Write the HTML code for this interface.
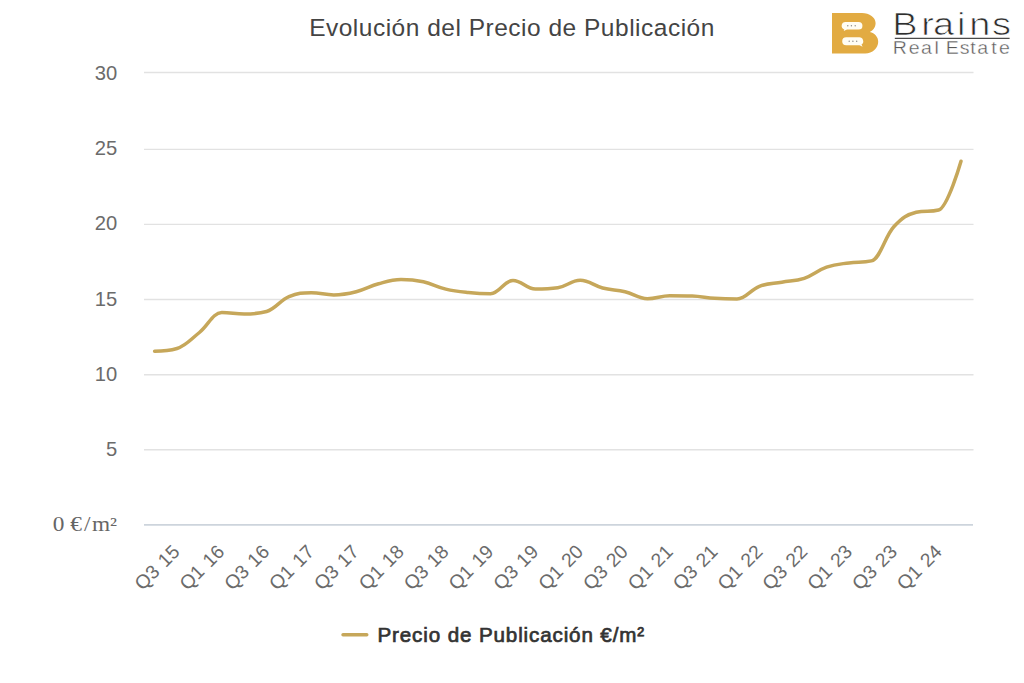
<!DOCTYPE html>
<html><head><meta charset="utf-8"><title>Evolución del Precio de Publicación</title>
<style>
html,body{margin:0;padding:0;background:#fff;width:1024px;height:683px;overflow:hidden}
svg{display:block}
text{font-family:"Liberation Sans",Arial,sans-serif}
.serif text{font-family:"Liberation Serif",serif}
</style></head><body>
<svg width="1024" height="683" viewBox="0 0 1024 683">
<rect width="1024" height="683" fill="#fff"/>
<g stroke="#e2e2e2" stroke-width="1.4" fill="none">
<path d="M144 72.45 H973.5"/>
<path d="M144 149.35 H973.5"/>
<path d="M144 224.35 H973.5"/>
<path d="M144 299.5 H973.5"/>
<path d="M144 374.8 H973.5"/>
<path d="M144 449.7 H973.5"/>
</g>
<path d="M144 524.9 H973" stroke="#cdd4dc" stroke-width="1.6" fill="none"/>
<g fill="#6b6b6b" font-size="20.2">
<text x="117.3" y="80.15" text-anchor="end">30</text>
<text x="117.3" y="155.30" text-anchor="end">25</text>
<text x="117.3" y="230.45" text-anchor="end">20</text>
<text x="117.3" y="305.60" text-anchor="end">15</text>
<text x="117.3" y="380.75" text-anchor="end">10</text>
<text x="117.3" y="455.90" text-anchor="end">5</text>
</g>
<g class="serif" fill="#666" font-size="20.3" transform="translate(0 530.8)">
<text transform="translate(53.60 0) scale(1.149 1)" x="-0.81 6.82 14.46 26.40 33.50 49.01" >0 €/m²</text>
</g>
<g fill="#6b6b6b" font-size="19.3" word-spacing="1.5">
<text x="180.80" y="553" transform="rotate(-45 180.80 553)" text-anchor="end">Q3 15</text>
<text x="225.64" y="553" transform="rotate(-45 225.64 553)" text-anchor="end">Q1 16</text>
<text x="270.48" y="553" transform="rotate(-45 270.48 553)" text-anchor="end">Q3 16</text>
<text x="315.32" y="553" transform="rotate(-45 315.32 553)" text-anchor="end">Q1 17</text>
<text x="360.16" y="553" transform="rotate(-45 360.16 553)" text-anchor="end">Q3 17</text>
<text x="405.00" y="553" transform="rotate(-45 405.00 553)" text-anchor="end">Q1 18</text>
<text x="449.84" y="553" transform="rotate(-45 449.84 553)" text-anchor="end">Q3 18</text>
<text x="494.68" y="553" transform="rotate(-45 494.68 553)" text-anchor="end">Q1 19</text>
<text x="539.52" y="553" transform="rotate(-45 539.52 553)" text-anchor="end">Q3 19</text>
<text x="584.36" y="553" transform="rotate(-45 584.36 553)" text-anchor="end">Q1 20</text>
<text x="629.20" y="553" transform="rotate(-45 629.20 553)" text-anchor="end">Q3 20</text>
<text x="674.04" y="553" transform="rotate(-45 674.04 553)" text-anchor="end">Q1 21</text>
<text x="718.88" y="553" transform="rotate(-45 718.88 553)" text-anchor="end">Q3 21</text>
<text x="763.72" y="553" transform="rotate(-45 763.72 553)" text-anchor="end">Q1 22</text>
<text x="808.56" y="553" transform="rotate(-45 808.56 553)" text-anchor="end">Q3 22</text>
<text x="853.40" y="553" transform="rotate(-45 853.40 553)" text-anchor="end">Q1 23</text>
<text x="898.24" y="553" transform="rotate(-45 898.24 553)" text-anchor="end">Q3 23</text>
<text x="943.08" y="553" transform="rotate(-45 943.08 553)" text-anchor="end">Q1 24</text>
</g>
<path d="M154.60 351.20 C154.60 351.20 168.04 351.20 177.00 348.50 C185.96 345.80 190.44 339.68 199.40 332.50 C208.36 325.32 212.84 312.60 221.80 312.60 C230.76 312.60 235.24 314.00 244.20 314.00 C253.16 314.00 257.64 314.00 266.60 311.50 C275.56 309.00 280.04 300.36 289.00 296.60 C297.96 292.84 302.44 292.70 311.40 292.70 C320.36 292.70 324.84 294.90 333.80 294.90 C342.76 294.90 347.24 293.94 356.20 291.70 C365.16 289.46 369.64 286.14 378.60 283.70 C387.56 281.26 392.04 279.50 401.00 279.50 C409.96 279.50 414.44 279.88 423.40 281.80 C432.36 283.72 436.84 286.96 445.80 289.10 C454.76 291.24 459.24 291.58 468.20 292.50 C477.16 293.42 481.64 293.70 490.60 293.70 C499.56 293.70 504.04 280.40 513.00 280.40 C521.96 280.40 526.44 289.00 535.40 289.00 C544.36 289.00 548.84 289.00 557.80 287.70 C566.76 286.40 571.24 280.30 580.20 280.30 C589.16 280.30 593.64 285.72 602.60 288.00 C611.56 290.28 616.04 289.56 625.00 291.70 C633.96 293.84 638.44 298.70 647.40 298.70 C656.36 298.70 660.84 295.70 669.80 295.70 C678.76 295.70 683.24 295.70 692.20 296.00 C701.16 296.30 705.64 297.70 714.60 298.30 C723.56 298.90 728.04 299.00 737.00 299.00 C745.96 299.00 750.44 289.66 759.40 286.30 C768.36 282.94 772.84 283.80 781.80 282.20 C790.76 280.60 795.24 281.32 804.20 278.30 C813.16 275.28 817.64 270.18 826.60 267.10 C835.56 264.02 840.04 264.14 849.00 262.90 C857.96 261.66 862.44 262.90 871.40 260.90 C880.36 258.90 884.84 236.52 893.80 226.80 C902.76 217.08 907.24 214.60 916.20 212.30 C925.16 210.00 929.64 212.30 938.60 210.00 C947.56 207.70 961.00 161.30 961.00 161.30" stroke="#c6a75a" stroke-width="3.5" fill="none" stroke-linecap="round" stroke-linejoin="round"/>
<text x="309.15" y="35.7" fill="#444" font-size="24.5" textLength="405.2" lengthAdjust="spacing">Evolución del Precio de Publicación</text>
<path d="M343 634.8 H366.8" stroke="#c6a75a" stroke-width="3.4" stroke-linecap="round"/>
<text x="377.46" y="641.8" fill="#333" stroke="#333" stroke-width="0.7" font-size="20.6" textLength="266.7" lengthAdjust="spacing">Precio de Publicación €/m²</text>
<g>
<path d="M832 13.1 H861.9 C869.5 13.1 875.6 17.6 875.6 23.1 C875.6 27.2 873.2 30.4 869.8 32 C874.8 33.2 878.2 37 878.2 41.7 C878.2 48 872.4 53.5 865.3 53.5 H832 Z" fill="#e2ab42"/>
<path d="M845.6 21.9 H858.6 A3.85 3.85 0 0 1 858.6 29.6 H847 L843.7 31 L844.3 29.4 A3.85 3.85 0 0 1 845.6 21.9 Z" fill="#fffdf4"/>
<path d="M846.2 37.3 H859.3 A4 4 0 0 1 861.5 44.6 L862.6 46.8 L859.5 45.3 H846.2 A4 4 0 0 1 846.2 37.3 Z" fill="#fffdf4"/>
<g fill="#8a8a8a"><circle cx="847.8" cy="25.7" r="0.7"/><circle cx="851.4" cy="25.7" r="0.7"/><circle cx="855.2" cy="25.7" r="0.7"/>
<circle cx="849.2" cy="41.3" r="0.7"/><circle cx="852.9" cy="41.3" r="0.7"/><circle cx="856.7" cy="41.3" r="0.7"/></g>
<g fill="#2e2e2e" font-size="31" stroke="#fff" stroke-width="0.75" transform="translate(0 35.4)">
<text transform="translate(894.80 0) scale(1.226 1)" x="-2.13 21.56 31.08 50.68 60.78 79.29" >Brains</text>
</g>
<path d="M894.8 38.4 H1009.6" stroke="#4a4a4a" stroke-width="1.1"/>
<g fill="#5a5a5a" font-size="17.5" stroke="#fff" stroke-width="0.35" transform="translate(0 53.9)">
<text transform="translate(894.60 0) scale(1.120 1)" x="-1.56 12.68 23.53 35.56 40.67 45.77 58.14 67.66 73.83 86.35 93.27" >Real Estate</text>
</g>
</g>
</svg>
</body></html>
